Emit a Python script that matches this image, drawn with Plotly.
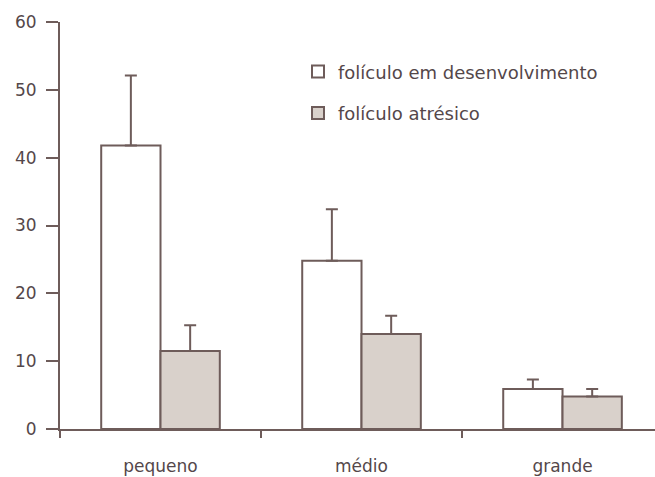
import plotly.graph_objects as go

# Follicle counts by size class (mean with upward error)
categorias = ["pequeno", "médio", "grande"]
desenvolvimento = [41.8, 24.8, 5.9]
desenvolvimento_erro = [10.3, 7.6, 1.4]
atresico = [11.5, 14.0, 4.8]
atresico_erro = [3.8, 2.7, 1.1]
y_ticks = [0, 10, 20, 30, 40, 50, 60]

LINE = "#6e5c5a"
TEXT = "#54474a"
GRAY_FILL = "#d9d1cb"
FONT = "DejaVu Sans"

fig = go.Figure()

fig.add_trace(go.Bar(
    name="folículo em desenvolvimento",
    x=categorias, y=desenvolvimento,
    marker=dict(color="white", line=dict(color=LINE, width=2)),
    error_y=dict(type="data", symmetric=False, array=desenvolvimento_erro,
                 arrayminus=[0] * len(desenvolvimento), color=LINE,
                 thickness=2, width=6),
    legendgroup="a",
))
fig.add_trace(go.Bar(
    name="folículo atrésico",
    x=categorias, y=atresico,
    marker=dict(color=GRAY_FILL, line=dict(color=LINE, width=2)),
    error_y=dict(type="data", symmetric=False, array=atresico_erro,
                 arrayminus=[0] * len(atresico), color=LINE,
                 thickness=2, width=6),
    legendgroup="b",
))

fig.update_layout(
    width=655, height=477,
    margin=dict(l=60, r=0, t=22, b=48),
    paper_bgcolor="white", plot_bgcolor="white",
    barmode="group", bargap=0.41, bargroupgap=0,
    font=dict(family=FONT, color=TEXT, size=15),
    showlegend=True,
    legend=dict(x=0.40, y=0.923, xanchor="left", yanchor="top",
                bgcolor="rgba(0,0,0,0)", font=dict(size=18, color=TEXT),
                traceorder="grouped", tracegroupgap=15,
                itemclick=False),
    xaxis=dict(
        type="category", range=[-0.5, 2.46],
        showline=True, linecolor=LINE, linewidth=2,
        ticks="outside", tickson="boundaries", ticklen=7, tickwidth=2,
        tickcolor=LINE, showgrid=False, zeroline=False,
        tickfont=dict(size=17, color=TEXT), ticklabelstandoff=21,
    ),
    yaxis=dict(
        range=[0, 60], tickvals=y_ticks,
        showline=True, linecolor=LINE, linewidth=2,
        ticks="outside", ticklen=12, tickwidth=2, tickcolor=LINE,
        showgrid=False, zeroline=False,
        tickfont=dict(size=17, color=TEXT), ticklabelstandoff=6,
    ),
)

fig.write_html("out.html")
